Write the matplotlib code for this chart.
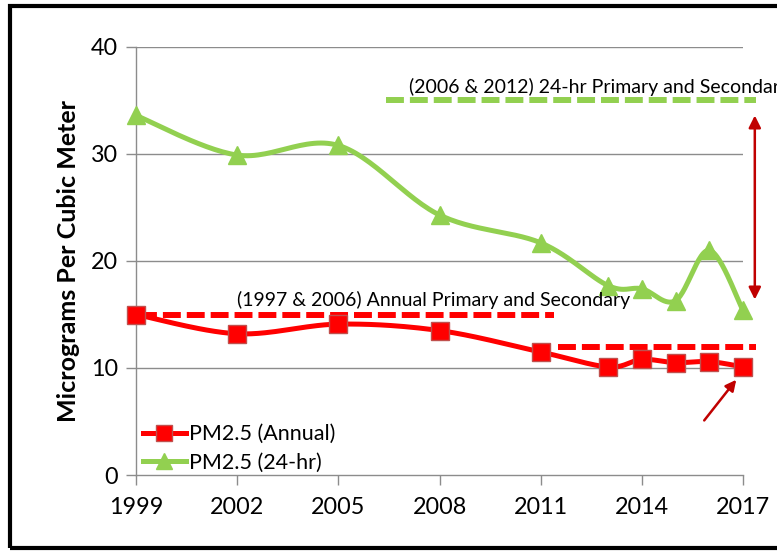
import numpy as np
import matplotlib
matplotlib.use("Agg")
import matplotlib.pyplot as plt
from matplotlib.patches import Rectangle

plt.rcParams['font.family'] = ['Lato', 'DejaVu Sans']

years = [1999, 2002, 2005, 2008, 2011, 2013, 2014, 2015, 2016, 2017]
annual = [15.0, 13.2, 14.1, 13.5, 11.5, 10.1, 10.8, 10.5, 10.6, 10.1]
daily = [33.6, 29.9, 30.8, 24.3, 21.7, 17.7, 17.4, 16.3, 21.0, 15.4]
xticks = [1999, 2002, 2005, 2008, 2011, 2014, 2017]
yticks = [0, 10, 20, 30, 40]

std_daily = 35
std_annual_old = 15
std_annual_new = 12

RED = '#FF0000'
GREEN = '#92D050'
DARKRED = '#C00000'

fig = plt.figure(figsize=(7.77, 5.54), dpi=100)
ax = fig.add_axes([136/777, 1-475/554, (743-136)/777, (475-47)/554])
ax.set_xlim(1999, 2017)
ax.set_ylim(0, 40)


def smooth(xs, ys, n=30):
    pts = ax.transData.transform(np.column_stack([xs, ys]))
    P = np.vstack([pts[0], pts, pts[-1]])
    out = []
    for i in range(1, len(P) - 2):
        p0, p1, p2, p3 = P[i-1], P[i], P[i+1], P[i+2]
        c1 = p1 + (p2 - p0) / 6.0
        c2 = p2 - (p3 - p1) / 6.0
        t = np.linspace(0, 1, n)[:, None]
        seg = ((1-t)**3) * p1 + 3*((1-t)**2)*t*c1 + 3*(1-t)*t**2*c2 + t**3*p2
        out.append(seg if i == 1 else seg[1:])
    out = np.vstack(out)
    d = ax.transData.inverted().transform(out)
    return d[:, 0], d[:, 1]

# grid
for y in yticks[1:]:
    ax.axhline(y, color='#8C8C8C', lw=1.0, zorder=1)

# standards
dash = (3.0, 1.0)
ax.plot([2006.4, 2017.4], [std_daily]*2, color=GREEN, lw=4.3, dashes=dash, clip_on=False, zorder=3)
ax.plot([1999.1, 2011.4], [std_annual_old]*2, color=RED, lw=4.3, dashes=dash, clip_on=False, zorder=3)
ax.plot([2011.5, 2017.4], [std_annual_new]*2, color=RED, lw=4.3, dashes=dash, clip_on=False, zorder=3)

sx, sy = smooth(years, daily)
ax.plot(sx, sy, color=GREEN, lw=3.6, zorder=4, clip_on=False, solid_capstyle='round')
ax.plot(years, daily, ls='none', marker='^', ms=12.5, color=GREEN, mec=GREEN, zorder=5, clip_on=False)
sx, sy = smooth(years, annual)
ax.plot(sx, sy, color=RED, lw=3.6, zorder=4, clip_on=False, solid_capstyle='round')
ax.plot(years, annual, ls='none', marker='s', ms=12.5, color=RED, mec='#C0504D', mew=1, zorder=5, clip_on=False)

# legend proxies
h1, = ax.plot([], [], color=RED, lw=3.6, marker='s', ms=12, mfc=RED, mec='#C0504D')
h2, = ax.plot([], [], color=GREEN, lw=3.6, marker='^', ms=12, mfc=GREEN, mec=GREEN)
leg = ax.legend([h1, h2], ['PM2.5 (Annual)', 'PM2.5 (24-hr)'], loc='lower left',
                bbox_to_anchor=(-0.01, -0.025), frameon=False, fontsize=15.5,
                handlelength=2.0, handletextpad=0.15, labelspacing=0.4, borderaxespad=0.2)

# annotations
ax.text(2007.1, 36.3, '(2006 & 2012) 24-hr Primary and Secondary', fontsize=14,
        ha='left', va='center', clip_on=False, zorder=6)
ax.text(2002.0, 16.4, '(1997 & 2006) Annual Primary and Secondary', fontsize=14,
        ha='left', va='center', zorder=6)
ax.annotate('', xy=(2017.35, 33.6), xytext=(2017.35, 16.4),
            arrowprops=dict(arrowstyle='<|-|>', color=DARKRED, lw=1.8, mutation_scale=18,
                            shrinkA=0, shrinkB=0), annotation_clip=False)
ax.annotate('', xy=(2016.8, 8.9), xytext=(2015.85, 5.1),
            arrowprops=dict(arrowstyle='-|>', color=DARKRED, lw=1.8, mutation_scale=16,
                            shrinkA=0, shrinkB=0), annotation_clip=False)

# axes styling
for s in ['top', 'right']:
    ax.spines[s].set_visible(False)
for s in ['left', 'bottom']:
    ax.spines[s].set_color('#8C8C8C')
    ax.spines[s].set_linewidth(1.0)
ax.set_xticks(xticks)
ax.set_yticks(yticks)
ax.tick_params(axis='both', colors='#8C8C8C', labelcolor='black', labelsize=16.8,
               length=7, width=1.0, direction='out')
ax.tick_params(axis='x', pad=9)
ax.tick_params(axis='y', pad=6)
ax.set_ylabel('Micrograms Per Cubic Meter', fontsize=18, fontweight='bold', labelpad=8)

# outer frame
fig.patches.append(Rectangle((10/777, 6/554), 1.0, 1 - 12/554, transform=fig.transFigure,
                             fill=False, edgecolor='black', lw=3, zorder=10))

fig.savefig('out.png', dpi=100)
